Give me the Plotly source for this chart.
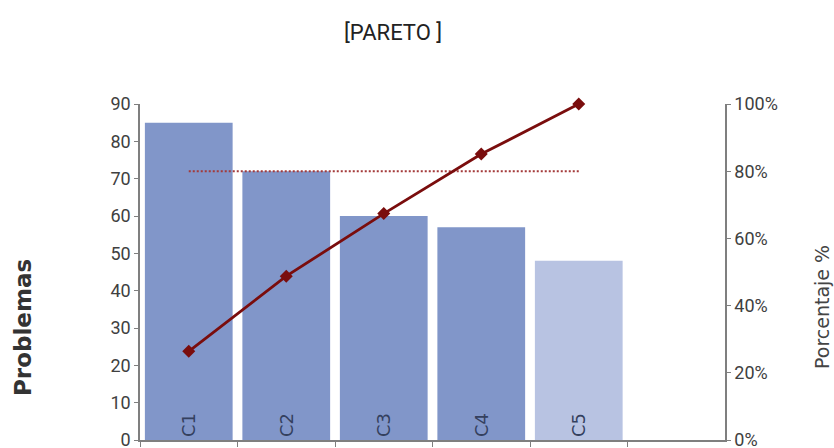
import plotly.graph_objects as go

# Pareto data: problem counts per cause, sorted descending
categories = ["C1", "C2", "C3", "C4", "C5"]
problems = [85, 72, 60, 57, 48]
bar_colors = ["#8196C9", "#8196C9", "#8196C9", "#8196C9", "#B8C3E2"]
threshold = 0.8

total = sum(problems)
cumulative = []
running = 0
for v in problems:
    running += v
    cumulative.append(running / total)

narrow = "Roboto, Liberation Sans, sans-serif"
axis_grey = "#7f7f7f"

fig = go.Figure()

fig.add_trace(go.Bar(
    x=categories,
    y=problems,
    marker=dict(color=bar_colors, line=dict(width=0)),
    text=categories,
    textposition="inside",
    insidetextanchor="start",
    textangle=-90,
    textfont=dict(family="DejaVu Sans", size=18, color="#34405e"),
    hoverinfo="x+y",
    showlegend=False,
))

# 80 % reference line
fig.add_trace(go.Scatter(
    x=[categories[0], categories[-1]],
    y=[threshold, threshold],
    yaxis="y2",
    mode="lines",
    line=dict(color="#a33a3a", width=2, dash="2px,2px"),
    hoverinfo="skip",
    showlegend=False,
))

# cumulative percentage
fig.add_trace(go.Scatter(
    x=categories,
    y=cumulative,
    yaxis="y2",
    mode="lines+markers",
    line=dict(color="#7a0d0d", width=2.8),
    marker=dict(symbol="diamond", size=10, color="#7a0d0d"),
    cliponaxis=False,
    showlegend=False,
))

fig.update_layout(
    width=834,
    height=448,
    margin=dict(l=140, r=109, t=104, b=8, autoexpand=False),
    paper_bgcolor="white",
    plot_bgcolor="white",
    bargap=0.1,
    xaxis=dict(
        type="category",
        categoryorder="array",
        categoryarray=categories,
        range=[-0.5, 5.5],
        showticklabels=False,
        ticks="outside",
        tickson="boundaries",
        ticklen=5,
        tickcolor=axis_grey,
        showline=True,
        linecolor=axis_grey,
        linewidth=1.5,
        showgrid=False,
        zeroline=False,
        automargin=False,
    ),
    yaxis=dict(
        range=[0, 90],
        dtick=10,
        ticks="outside",
        ticklen=4,
        tickcolor=axis_grey,
        showline=True,
        linecolor=axis_grey,
        linewidth=1.5,
        showgrid=False,
        zeroline=False,
        automargin=False,
        ticklabeloverflow="allow",
        tickfont=dict(family=narrow, size=18, color="#404040"),
    ),
    yaxis2=dict(
        overlaying="y",
        side="right",
        range=[0, 1],
        dtick=0.2,
        tickformat=".0%",
        ticks="outside",
        ticklen=4,
        tickcolor=axis_grey,
        showline=True,
        linecolor=axis_grey,
        linewidth=1.5,
        showgrid=False,
        zeroline=False,
        automargin=False,
        ticklabeloverflow="allow",
        tickfont=dict(family=narrow, size=18, color="#404040"),
    ),
    annotations=[
        dict(text="[PARETO ]", xref="paper", yref="paper",
             x=(393 - 140) / 585, y=(440 - 32) / 336,
             xanchor="center", yanchor="middle", showarrow=False,
             font=dict(family=narrow, size=22, color="#222222")),
        dict(text="<b>Problemas</b>", xref="paper", yref="paper",
             x=(23 - 140) / 585, y=(440 - 328) / 336, textangle=-90,
             xanchor="center", yanchor="middle", showarrow=False,
             font=dict(family="DejaVu Sans", size=23, color="#333333")),
        dict(text="Porcentaje %", xref="paper", yref="paper",
             x=(822 - 140) / 585, y=(440 - 307) / 336, textangle=-90,
             xanchor="center", yanchor="middle", showarrow=False,
             font=dict(family="DejaVu Sans", size=19, color="#444444")),
    ],
)

fig.write_html("out.html")
